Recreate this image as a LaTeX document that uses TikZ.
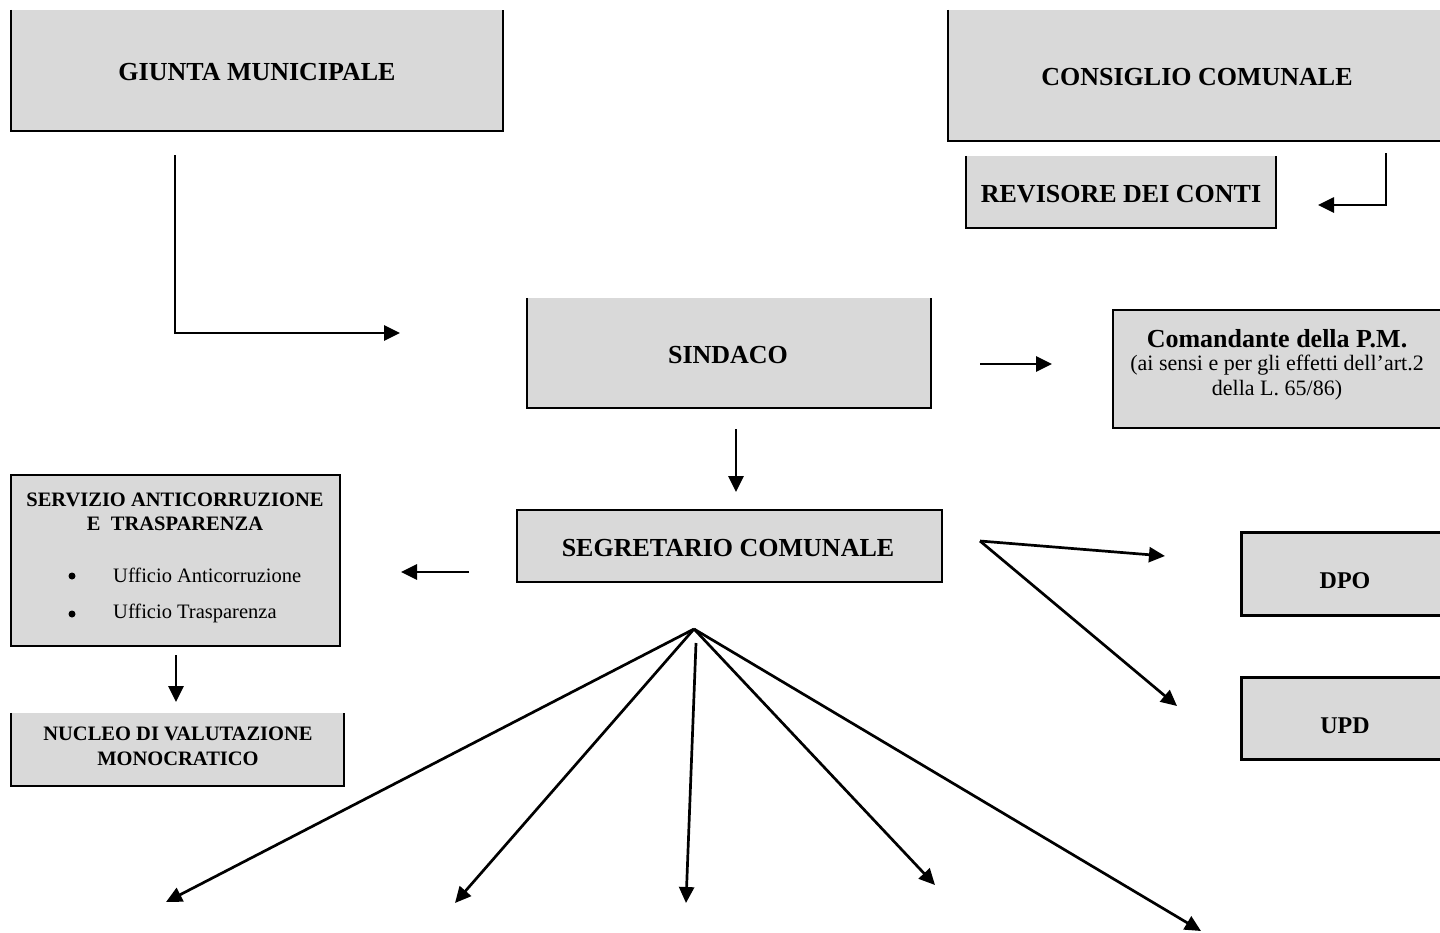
\documentclass[tikz,border=0pt]{standalone}
\usepackage{fontspec}
\setmainfont{Liberation Serif}
\usetikzlibrary{arrows.meta}
\definecolor{boxgray}{RGB}{217,217,217}
\tikzset{
  box/.style={fill=boxgray, draw=none, inner sep=0pt},
  edge/.style={line width=1.8pt, line join=miter},
  thickedge/.style={line width=3pt, line join=miter},
  arr/.style={line width=2.7pt, -{Triangle[length=16pt,width=15pt]}},
  title/.style={font=\fontsize{26}{30}\selectfont\bfseries, inner sep=0pt},
  smalltitle/.style={font=\fontsize{20.5}{24.5}\selectfont\bfseries, align=center, inner sep=0pt},
  sub/.style={font=\fontsize{22}{25}\selectfont, align=center, inner sep=0pt},
  item/.style={font=\fontsize{20.5}{25}\selectfont, inner sep=0pt, anchor=west},
  dot/.style={circle, fill=black, inner sep=0pt, minimum size=7pt},
}
\begin{document}
\begin{tikzpicture}[x=1pt,y=-1pt]
\useasboundingbox (0,0) rectangle (1440,932);
% boxes
\node[box, minimum width=492pt, minimum height=121pt] (giunta) at (257,70.5) {};
\node[title] (giuntat) at (257,72) {GIUNTA MUNICIPALE};
\node[box, minimum width=498pt, minimum height=131pt] (consiglio) at (1197,75.5) {};
\node[title] (consigliot) at (1197,77) {CONSIGLIO COMUNALE};
\node[box, minimum width=310pt, minimum height=72pt] (revisore) at (1121,192) {};
\node[title] (revisoret) at (1121,194) {REVISORE DEI CONTI};
\node[box, minimum width=404pt, minimum height=110pt] (sindaco) at (729,353) {};
\node[title] (sindacot) at (728,355) {SINDACO};
\node[box, minimum width=332pt, minimum height=118pt] (coman) at (1279,369) {};
\node[title] (comant) at (1277,339) {Comandante della P.M.};
\node[sub] (comans) at (1277,378) {(ai sensi e per gli effetti dell’art.2\\della L. 65/86)};
\node[box, minimum width=425pt, minimum height=72pt] (seg) at (729.5,546) {};
\node[title] (segt) at (728,548) {SEGRETARIO COMUNALE};
\node[box, minimum width=329pt, minimum height=171pt] (serv) at (175.5,560.5) {};
\node[smalltitle] (servt) at (175,512) {SERVIZIO ANTICORRUZIONE\\E\ \ TRASPARENZA};
\node[dot] (b1) at (72,576) {};
\node[item] (i1) at (113,575) {Ufficio Anticorruzione};
\node[dot] (b2) at (72,614) {};
\node[item] (i2) at (113,613) {Ufficio Trasparenza};
\node[box, minimum width=333pt, minimum height=73pt] (nucleo) at (177.5,749.5) {};
\node[smalltitle] (nucleot) at (178,746.5) {NUCLEO DI VALUTAZIONE\\MONOCRATICO};
\node[box, minimum width=206pt, minimum height=82pt] (dpo) at (1345,574) {};
\node[title, font=\fontsize{24}{28}\selectfont\bfseries] (dpot) at (1345,581) {DPO};
\node[box, minimum width=206pt, minimum height=81pt] (upd) at (1345,718.5) {};
\node[title, font=\fontsize{24}{28}\selectfont\bfseries] (updt) at (1345,726) {UPD};
% borders
\draw[edge] (giunta.north west) |- (giunta.south east) -- (giunta.north east);
\draw[edge] (consiglio.north west) |- (consiglio.south east);
\draw[edge] (revisore.north west) |- (revisore.south east) -- (revisore.north east);
\draw[edge] (sindaco.north west) |- (sindaco.south east) -- (sindaco.north east);
\draw[edge] (coman.south west) rectangle (coman.north east);
\draw[edge] (seg.south west) rectangle (seg.north east);
\draw[edge] (serv.south west) rectangle (serv.north east);
\draw[edge] (nucleo.north west) |- (nucleo.south east) -- (nucleo.north east);
\draw[thickedge] (dpo.south west) rectangle (dpo.north east);
\draw[thickedge] (upd.south west) rectangle (upd.north east);
% connector end points
\coordinate (g1) at (175,155);
\coordinate (s0) at (400,333);
\coordinate (c1) at (1386,153);
\coordinate (r0) at (1318,205);
\coordinate (sR) at (980,364);
\coordinate (cL) at (1052,364);
\coordinate (sB) at (736,429);
\coordinate (segT) at (736,492);
\coordinate (segL) at (469,572);
\coordinate (servR) at (401,572);
\coordinate (servB) at (176,655);
\coordinate (nucT) at (176,702);
\coordinate (segR) at (980,541);
\coordinate (dpoL) at (1165,556);
\coordinate (updL) at (1177,706);
\coordinate (apex) at (694,629);
\coordinate (apexv) at (696,643);
\coordinate (f1) at (166,902);
\coordinate (f2) at (455,903);
\coordinate (f3) at (686,903);
\coordinate (f4) at (935,885);
\coordinate (f5) at (1201,931);
% connectors
\draw[arr] (g1) |- (s0);
\draw[arr] (c1) |- (r0);
\draw[arr] (sR) -- (cL);
\draw[arr] (sB) -- (segT);
\draw[arr] (segL) -- (servR);
\draw[arr] (servB) -- (nucT);
\draw[arr] (segR) -- (dpoL);
\draw[arr] (segR) -- (updL);
\draw[arr] (apex) -- (f1);
\draw[arr] (apex) -- (f2);
\draw[arr] (apexv) -- (f3);
\draw[arr] (apex) -- (f4);
\draw[arr] (apex) -- (f5);
\end{tikzpicture}
\end{document}
